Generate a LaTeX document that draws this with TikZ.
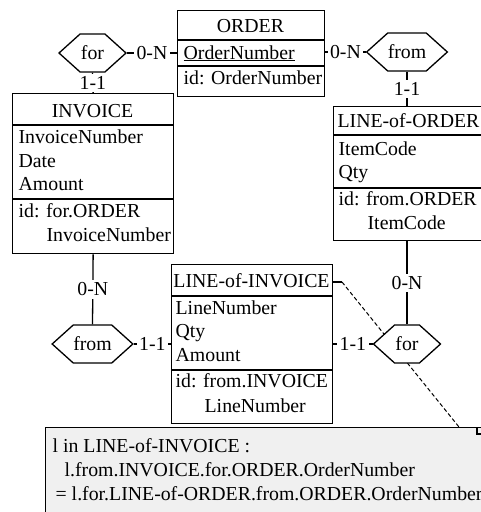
\documentclass[tikz,border=0pt]{standalone}
\usepackage{fontspec}
\setmainfont{Liberation Serif}
\usetikzlibrary{shapes.symbols}
\begin{document}
\begin{tikzpicture}[x=1pt,y=-1pt, line width=1.3pt,
  every node/.style={font=\fontsize{19.8}{24}\selectfont},
  ent/.style={draw, anchor=north west, inner sep=0pt, fill=white},
  txt/.style={anchor=base west, inner sep=0pt},
  ttl/.style={anchor=base, inner sep=0pt},
  hexa/.style={draw, fill=white, shape=signal, signal to=west and east, signal pointer angle=84, minimum height=38pt, inner sep=0pt},
  card/.style={fill=white, inner sep=2.5pt},
  notebox/.style={draw, fill=black!6, anchor=north west, inner sep=0pt},
  notelink/.style={line width=1pt, dash pattern=on 4pt off 2.5pt},
]
\useasboundingbox (0,0) rectangle (480,512);

% note
\node[notebox, minimum width=470pt, minimum height=110pt] (note) at (45,427) {};
\draw (477,427) -- (477,434) -- (486,434);
\node[txt] (n1) at (52,452) {l in LINE-of-INVOICE :};
\node[txt] (n2) at (64,476) {l.from.INVOICE.for.ORDER.OrderNumber};
\node[txt] (n3) at (55,500) {= l.for.LINE-of-ORDER.from.ORDER.OrderNumber};

% entities
\node[ent, minimum width=147pt, minimum height=86pt] (ord) at (177,10) {};
\draw (177,40) -- (324,40);
\draw (177,66) -- (324,66);
\node[ttl] (o0) at (250.5,32) {ORDER};
\node[txt] (o1) at (183,59) {\underline{OrderNumber}};
\node[txt] (o2) at (183,84) {id: OrderNumber};

\node[ent, minimum width=161pt, minimum height=160pt] (inv) at (12,93) {};
\draw (12,125) -- (173,125);
\draw (12,199) -- (173,199);
\node[ttl] (i0) at (92.5,117) {INVOICE};
\node[txt] (i1) at (18,143) {InvoiceNumber};
\node[txt] (i2) at (18,167) {Date};
\node[txt] (i3) at (18,190) {Amount};
\node[txt] (i4) at (18,217) {id: for.ORDER};
\node[txt] (i5) at (46,241) {InvoiceNumber};

\node[ent, minimum width=151pt, minimum height=134pt] (lo) at (333,106) {};
\draw (333,135) -- (484,135);
\draw (333,188) -- (484,188);
\node[ttl] (l0) at (408.5,127) {LINE-of-ORDER};
\node[txt] (l1) at (338,155) {ItemCode};
\node[txt] (l2) at (338,178) {Qty};
\node[txt] (l3) at (338,205) {id: from.ORDER};
\node[txt] (l4) at (367,229) {ItemCode};

\node[ent, minimum width=161pt, minimum height=159pt] (lin) at (171,264) {};
\draw (171,296) -- (332,296);
\draw (171,370) -- (332,370);
\node[ttl] (v0) at (251.5,287) {LINE-of-INVOICE};
\node[txt] (v1) at (175,314) {LineNumber};
\node[txt] (v2) at (175,337.5) {Qty};
\node[txt] (v3) at (175,361) {Amount};
\node[txt] (v4) at (175,387) {id: from.INVOICE};
\node[txt] (v5) at (204,412) {LineNumber};

% note link
\coordinate (linT) at (332,282);
\coordinate (nt) at (459,427);
\draw (linT) -- ++(10,0) coordinate (linT2);
\draw[notelink] (linT2) -- (nt);

% relationships
\node[hexa, minimum width=67pt] (forL) at (92.5,53) {for};
\node[hexa, minimum width=74pt] (fromR) at (407,52) {from};
\node[hexa, minimum width=73pt] (fromL) at (92.5,344) {from};
\node[hexa, minimum width=67pt] (forR) at (407,344) {for};

\draw (forL.east) -- node[card] (c1) {0-N} (ord.west |- forL.east);
\draw (forL.south) -- node[card] (c2) {1-1} (inv.north);
\draw (ord.east |- fromR.west) -- node[card] (c3) {0-N} (fromR.west);
\draw (fromR.south) -- node[card] (c4) {1-1} (fromR.south |- lo.north);
\draw (inv.south) -- node[card] (c5) {0-N} (fromL.north);
\draw (fromL.east) -- node[card] (c6) {1-1} (lin.west |- fromL.east);
\draw (lin.east |- forR.west) -- node[card] (c7) {1-1} (forR.west);
\draw (forR.north) -- node[card] (c8) {0-N} (forR.north |- lo.south);
\end{tikzpicture}
\end{document}
